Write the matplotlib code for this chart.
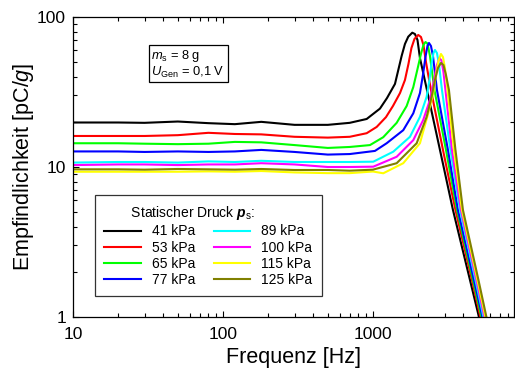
import matplotlib
matplotlib.use("Agg")
import matplotlib.pyplot as plt
from matplotlib.ticker import LogLocator, NullFormatter, FuncFormatter

plt.rcParams['font.family'] = ['Liberation Sans', 'DejaVu Sans']
plt.rcParams['mathtext.fontset'] = 'custom'
plt.rcParams['mathtext.rm'] = 'Liberation Sans'
plt.rcParams['mathtext.it'] = 'Liberation Sans:italic'
plt.rcParams['mathtext.bf'] = 'Liberation Sans:bold'
plt.rcParams['mathtext.bfit'] = 'Liberation Sans:italic:bold'

# ---------------- data ----------------
flat_freq = [10, 20, 30, 50, 80, 120, 180, 300, 500, 700]

# 41 kPa
flat_41 = [19.8, 19.8, 19.7, 20.1, 19.6, 19.3, 20.0, 19.1, 19.1, 19.7]
res_freq_41 = [908, 1113, 1240, 1402, 1553, 1634, 1719, 1828, 1905, 1981, 2057, 2291, 2797, 3415, 4434, 5090, 5580]
res_sens_41 = [20.9, 24.5, 28.8, 35.8, 55.0, 66.1, 73.9, 78.6, 77.0, 70.3, 53.3, 32.6, 13.0, 5.17, 1.765, 1.0, 0.703]

# 53 kPa
flat_53 = [16.1, 16.1, 16.1, 16.3, 16.9, 16.6, 16.5, 15.9, 15.7, 15.9]
res_freq_53 = [908, 1059, 1221, 1359, 1514, 1634, 1724, 1805, 1891, 2004, 2089, 2171, 2256, 2436, 2929, 3548, 4571, 5208, 5709]
res_sens_53 = [16.8, 18.5, 21.5, 25.5, 31.1, 38.0, 48.6, 62.1, 71.4, 75.9, 73.6, 65.1, 50.1, 32.6, 13.0, 5.17, 1.765, 1.0, 0.703]

# 65 kPa
flat_65 = [14.4, 14.4, 14.3, 14.2, 14.3, 14.7, 14.6, 14.0, 13.4, 13.6]
res_freq_65 = [955, 1171, 1439, 1677, 1857, 1974, 2089, 2171, 2239, 2309, 2399, 2570, 3067, 3631, 4642, 5289, 5797]
res_sens_65 = [14.0, 15.8, 19.7, 25.5, 34.1, 44.3, 56.7, 65.1, 68.1, 66.6, 55.0, 32.6, 13.0, 5.17, 1.765, 1.0, 0.703]

# 77 kPa
flat_77 = [12.7, 12.7, 12.6, 12.7, 12.6, 12.7, 13.0, 12.6, 12.1, 12.2]
res_freq_77 = [1031, 1234, 1592, 1857, 2057, 2154, 2239, 2309, 2363, 2436, 2512, 2671, 3162, 3687, 4714, 5370, 5888]
res_sens_77 = [12.8, 14.4, 17.6, 22.8, 31.1, 41.1, 54.1, 64.1, 67.1, 64.1, 55.0, 32.6, 13.0, 5.17, 1.765, 1.0, 0.703]

# 89 kPa
flat_89 = [10.7, 10.8, 10.8, 10.7, 10.9, 10.8, 11.0, 10.8, 10.8, 10.8]
res_freq_89 = [1005, 1366, 1765, 2057, 2280, 2381, 2455, 2532, 2590, 2671, 2754, 2884, 3286, 3802, 4824, 5454, 5979]
res_sens_89 = [10.85, 12.65, 15.9, 21.6, 29.4, 38.0, 48.6, 57.5, 60.3, 57.5, 48.6, 32.6, 13.0, 5.17, 1.765, 1.0, 0.703]

# 100 kPa
flat_100 = [10.3, 10.4, 10.4, 10.3, 10.4, 10.4, 10.6, 10.4, 10.0, 10.0]
res_freq_100 = [1005, 1439, 1857, 2164, 2399, 2551, 2671, 2775, 2862, 2951, 3043, 3363, 3861, 4898, 5538, 6071]
res_sens_100 = [10.05, 11.7, 15.1, 20.6, 28.0, 38.0, 47.9, 53.3, 51.3, 43.0, 32.6, 13.0, 5.17, 1.765, 1.0, 0.703]

# 115 kPa
flat_115 = [9.3, 9.3, 9.3, 9.3, 9.35, 9.3, 9.4, 9.2, 9.1, 9.1]
res_freq_115 = [1000, 1171, 1592, 2057, 2337, 2523, 2630, 2733, 2840, 2929, 3020, 3139, 3467, 3920, 4974, 5623, 6166]
res_sens_115 = [9.33, 9.08, 10.6, 14.4, 22.8, 31.0, 41.1, 50.9, 56.7, 54.1, 45.7, 32.6, 13.0, 5.17, 1.765, 1.0, 0.703]

# 125 kPa
flat_125 = [9.65, 9.65, 9.6, 9.7, 9.65, 9.6, 9.7, 9.55, 9.55, 9.45]
res_freq_125 = [1000, 1439, 1956, 2280, 2462, 2590, 2713, 2840, 2951, 3067, 3211, 3548, 3981, 5051, 5709, 6261]
res_sens_125 = [9.6, 10.6, 14.4, 21.6, 29.4, 38.0, 45.7, 49.4, 47.9, 41.1, 32.6, 13.0, 5.17, 1.765, 1.0, 0.703]

labels = ['41 kPa', '53 kPa', '65 kPa', '77 kPa', '89 kPa', '100 kPa', '115 kPa', '125 kPa']
colors = ['#000000', '#FF0000', '#00FF00', '#0000FF', '#00FFFF', '#FF00FF', '#FFFF00', '#808000']
flats = [flat_41, flat_53, flat_65, flat_77, flat_89, flat_100, flat_115, flat_125]
res_freqs = [res_freq_41, res_freq_53, res_freq_65, res_freq_77, res_freq_89, res_freq_100, res_freq_115, res_freq_125]
res_sens = [res_sens_41, res_sens_53, res_sens_65, res_sens_77, res_sens_89, res_sens_100, res_sens_115, res_sens_125]

x_label = 'Frequenz [Hz]'
y_label = 'Empfindlichkeit [pC/$g$]'
legend_title = '       Statischer Druck $\\mathbfit{p}_\\mathregular{s}$:'
info_text = '$m_\\mathregular{s}$ = 8 g\n$U_\\mathregular{Gen}$ = 0,1 V'

# ---------------- figure ----------------
W, H = 515, 374
fig = plt.figure(figsize=(W / 100, H / 100), dpi=100)
ax = fig.add_axes([73 / W, 1 - 317 / H, 440.5 / W, 300 / H])

for lab, col, fl, rf, rs in zip(labels, colors, flats, res_freqs, res_sens):
    ax.plot(flat_freq + rf, fl + rs, color=col, lw=1.5, label=lab,
            solid_joinstyle='round')

ax.set_xscale('log')
ax.set_yscale('log')
ax.set_xlim(10, 8650)
ax.set_ylim(1, 100)

fmt = FuncFormatter(lambda v, p: f'{v:g}')
ax.xaxis.set_major_formatter(fmt)
ax.yaxis.set_major_formatter(fmt)
ax.xaxis.set_minor_formatter(NullFormatter())
ax.yaxis.set_minor_formatter(NullFormatter())
ax.xaxis.set_minor_locator(LogLocator(base=10, subs=range(2, 10)))
ax.yaxis.set_minor_locator(LogLocator(base=10, subs=range(2, 10)))

ax.tick_params(which='both', direction='in', top=True, right=True, width=0.8, colors='black')
ax.tick_params(which='major', length=4, labelsize=12.5, pad=5)
ax.tick_params(axis='x', which='major', pad=7)
ax.tick_params(which='minor', length=2.6)
for s in ax.spines.values():
    s.set_linewidth(0.9)

ax.set_xlabel(x_label, fontsize=15.5, labelpad=4)
ax.set_ylabel(y_label, fontsize=15.5, labelpad=1)

leg = ax.legend(ncol=2, title=legend_title, fontsize=10, title_fontsize=10,
                loc='upper left', bbox_to_anchor=(0.05, 0.4067), borderaxespad=0,
                frameon=True, fancybox=False, edgecolor='black',
                handlelength=2.65, handletextpad=0.8, columnspacing=1.3,
                labelspacing=0.16, borderpad=0.66, alignment='left')
leg.get_frame().set_linewidth(0.9)
for lh in leg.get_lines():
    lh.set_linewidth(1.5)

ax.text(0.178, 0.895, info_text, transform=ax.transAxes, fontsize=9.3,
        va='top', ha='left', linespacing=1.0,
        bbox=dict(boxstyle='square,pad=0.22', fc='white', ec='black', lw=0.9))

fig.savefig('out.png', dpi=100)
